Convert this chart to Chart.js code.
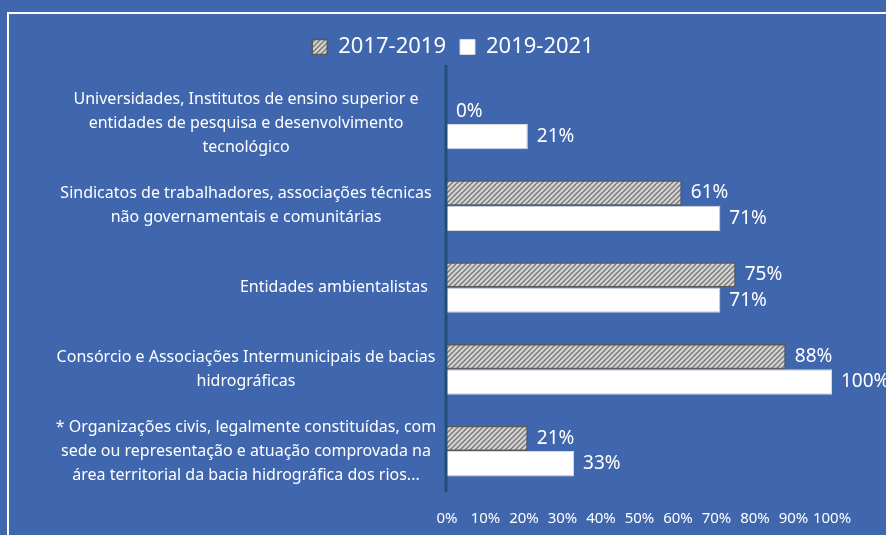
<!DOCTYPE html>
<html>
<head>
<meta charset="utf-8">
<script src="https://cdn.jsdelivr.net/npm/chart.js@4.4.1/dist/chart.umd.min.js"></script>
<style>
  html, body { margin: 0; padding: 0; background: #4066ad; }
  #wrap { position: relative; width: 886px; height: 535px; }
  #frame { position: absolute; left: 7px; top: 12px; right: -5px; bottom: -5px;
           border-left: 2px solid #fff; border-top: 2px solid #fff; }
  canvas { position: absolute; left: 0; top: 0; }
</style>
</head>
<body>
<div id="wrap">
  <div id="frame"></div>
  <canvas id="chart" width="886" height="535"></canvas>
</div>
<script>
const categories = [
    ["Universidades, Institutos de ensino superior e", "entidades de pesquisa e desenvolvimento", "tecnológico"],
    ["Sindicatos de trabalhadores, associações técnicas", "não governamentais e comunitárias"],
    ["Entidades ambientalistas"],
    ["Consórcio e Associações Intermunicipais de bacias", "hidrográficas"],
    ["* Organizações civis, legalmente constituídas, com", "sede ou representação e atuação comprovada na", "área territorial da bacia hidrográfica dos rios..."]
];
const series2017 = [0, 61, 75, 88, 21];
const series2019 = [21, 71, 71, 100, 33];
const xTicks = ["0%", "10%", "20%", "30%", "40%", "50%", "60%", "70%", "80%", "90%", "100%"];

// hatched fill for 2017-2019
function makeHatch() {
    const c = document.createElement("canvas");
    c.width = 5; c.height = 5;
    const g = c.getContext("2d");
    g.fillStyle = "#d4d4d4";
    g.fillRect(0, 0, 5, 5);
    g.strokeStyle = "#767676";
    g.lineWidth = 1.3;
    g.beginPath();
    g.moveTo(-1, 6); g.lineTo(6, -1);
    g.moveTo(-1, 1); g.lineTo(1, -1);
    g.moveTo(4, 6); g.lineTo(6, 4);
    g.stroke();
    return g.createPattern(c, "repeat");
}
const hatch = makeHatch();

const FONT = "'Noto Sans', 'Open Sans', sans-serif";

// category labels + value labels + axis line
const labelPlugin = {
    id: "labels",
    afterDatasetsDraw(chart) {
        const ctx = chart.ctx;
        const y = chart.scales.y;
        const x = chart.scales.x;
        const area = chart.chartArea;
        ctx.save();

        // axis line
        ctx.strokeStyle = "#1f4e79";
        ctx.lineWidth = 3;
        ctx.beginPath();
        ctx.moveTo(x.getPixelForValue(0) - 1, area.top - 18);
        ctx.lineTo(x.getPixelForValue(0) - 1, area.bottom);
        ctx.stroke();

        // category labels
        ctx.fillStyle = "#ffffff";
        ctx.font = "16px " + FONT;
        ctx.textBaseline = "middle";
        categories.forEach((lines, i) => {
            const cy = y.getPixelForValue(i);
            const lh = 24;
            lines.forEach((line, j) => {
                const ly = cy + (j - (lines.length - 1) / 2) * lh;
                if (lines.length === 1) {
                    ctx.textAlign = "right";
                    ctx.fillText(line, area.left - 19, ly);
                } else {
                    ctx.textAlign = "center";
                    ctx.fillText(line, area.left - 201, ly);
                }
            });
        });

        // value labels
        ctx.font = "19px " + FONT;
        ctx.textAlign = "left";
        chart.data.datasets.forEach((ds, di) => {
            const meta = chart.getDatasetMeta(di);
            meta.data.forEach((bar, i) => {
                ctx.fillText(ds.data[i] + "%", bar.x + 9, bar.y);
            });
        });
        ctx.restore();
    }
};

new Chart(document.getElementById("chart"), {
    type: "bar",
    data: {
        labels: categories,
        datasets: [
            {
                label: "2017-2019",
                data: series2017,
                backgroundColor: hatch,
                borderColor: "#595959",
                borderWidth: 1.5,
                categoryPercentage: 0.62,
                barPercentage: 1.0
            },
            {
                label: "2019-2021",
                data: series2019,
                backgroundColor: "#ffffff",
                borderColor: "#d9d9d9",
                borderWidth: 1,
                categoryPercentage: 0.62,
                barPercentage: 1.0
            }
        ]
    },
    options: {
        indexAxis: "y",
        responsive: false,
        animation: false,
        layout: {
            padding: { top: 22, left: 74, right: 54, bottom: 0 }
        },
        plugins: {
            legend: {
                labels: {
                    color: "white",
                    boxWidth: 15,
                    boxHeight: 15,
                    padding: 14,
                    font: { size: 22, family: FONT }
                }
            },
            tooltip: { enabled: false }
        },
        scales: {
            x: {
                min: 0,
                max: 100,
                ticks: {
                    stepSize: 10,
                    color: "white",
                    padding: 10,
                    maxRotation: 0,
                    minRotation: 0,
                    autoSkip: false,
                    font: { size: 15, family: FONT },
                    callback: (v, i) => xTicks[i]
                },
                grid: { display: false },
                border: { display: false },
                afterFit: s => { s.height = 43; }
            },
            // empty top axis, only used as a spacer under the legend
            xTop: {
                type: "linear",
                position: "top",
                ticks: { display: false },
                grid: { display: false },
                border: { display: false },
                afterFit: s => { s.height = 15; }
            },
            y: {
                ticks: { display: false },
                grid: { display: false },
                border: { display: false },
                afterFit: s => { s.width = 373; }
            }
        }
    },
    plugins: [labelPlugin]
});
</script>
</body>
</html>
